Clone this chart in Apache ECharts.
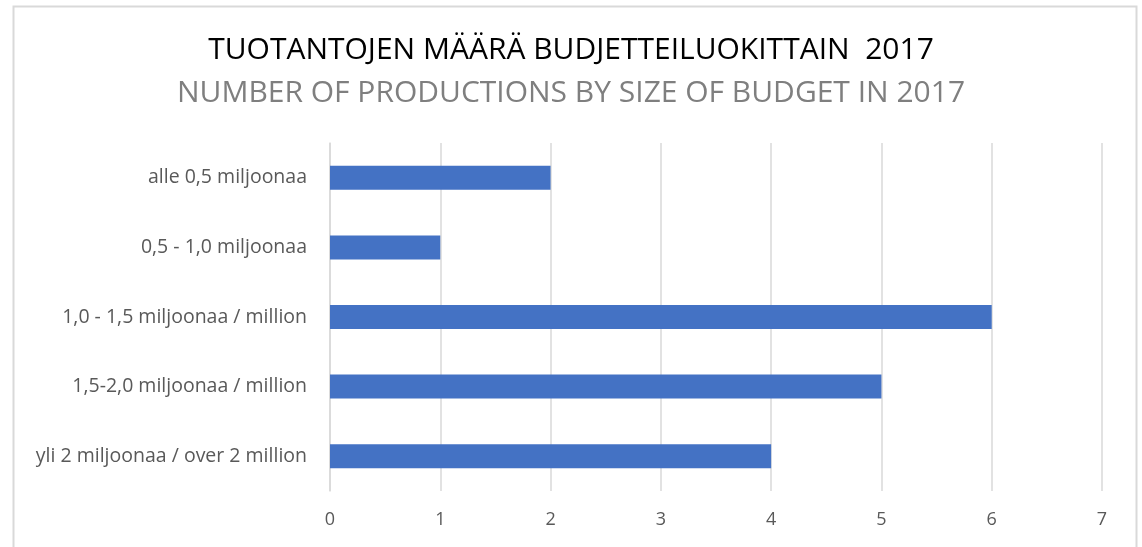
<!DOCTYPE html>
<html>
<head>
<meta charset="utf-8">
<script src="https://cdn.jsdelivr.net/npm/echarts@6/dist/echarts.min.js"></script>
<style>
  html, body { margin: 0; padding: 0; background: #fff; }
  #chart { width: 1142px; height: 547px; }
</style>
</head>
<body>
<div id="chart"></div>
<script>
  // budjettiluokat ylhäältä alas
  var categories = [
    'alle 0,5 miljoonaa',
    '0,5 - 1,0 miljoonaa',
    '1,0 - 1,5 miljoonaa / million',
    '1,5-2,0 miljoonaa / million',
    'yli 2 miljoonaa / over 2 million'
  ];
  var counts = [2, 1, 6, 5, 4];
  var xTicks = [0, 1, 2, 3, 4, 5, 6, 7];

  var chart = echarts.init(document.getElementById('chart'));
  var font = '"Open Sans", "Noto Sans", sans-serif';

  var option = {
    backgroundColor: '#fff',
    animation: false,
    title: {
      text: 'TUOTANTOJEN MÄÄRÄ BUDJETTEILUOKITTAIN  2017',
      subtext: 'NUMBER OF PRODUCTIONS BY SIZE OF BUDGET IN 2017',
      left: 'center',
      top: 30,
      itemGap: 13,
      textStyle: { fontFamily: font, fontSize: 30, fontWeight: 'normal', color: '#000' },
      subtextStyle: { fontFamily: font, fontSize: 30, color: '#7f7f7f' }
    },
    graphic: [{
      type: 'rect',
      shape: { x: 13.5, y: 6.5, width: 1123, height: 545 },
      style: { fill: 'none', stroke: '#d9d9d9', lineWidth: 2 },
      silent: true
    }],
    grid: { left: 330, right: 40, top: 143, bottom: 56 },
    xAxis: {
      type: 'value',
      min: xTicks[0],
      max: xTicks[xTicks.length - 1],
      interval: 1,
      axisLine: { show: false },
      axisTick: { show: false },
      axisLabel: { fontFamily: font, fontSize: 18, color: '#595959', margin: 20 },
      splitLine: { lineStyle: { color: '#d9d9d9', width: 1.5 } }
    },
    yAxis: {
      type: 'category',
      inverse: true,
      data: categories,
      axisLine: { lineStyle: { color: '#d9d9d9', width: 1.5 } },
      axisTick: { show: false },
      axisLabel: { fontFamily: font, fontSize: 19.5, color: '#595959', margin: 23 }
    },
    series: [{
      type: 'bar',
      data: counts,
      barWidth: 24,
      itemStyle: { color: '#4472c4' }
    }]
  };

  chart.setOption(option);
</script>
</body>
</html>
